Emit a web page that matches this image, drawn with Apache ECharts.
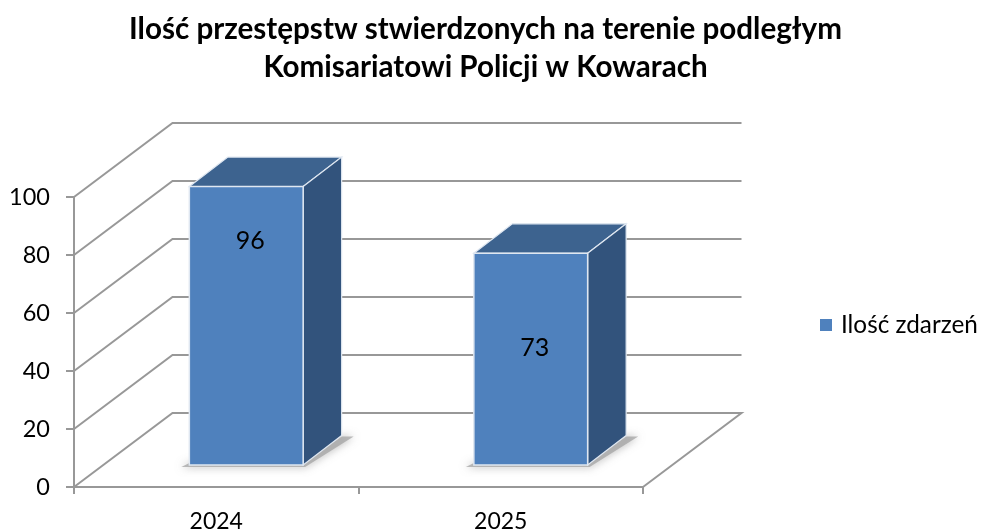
<!DOCTYPE html>
<html><head><meta charset="utf-8">
<style>html,body{margin:0;padding:0;background:#fff}#c{width:981px;height:532px}</style>
<script src="https://cdn.jsdelivr.net/npm/echarts@6/dist/echarts.min.js"></script>
</head><body><div id="c"></div>
<script>
const titleText = 'Ilość przestępstw stwierdzonych na terenie podległym\nKomisariatowi Policji w Kowarach';
const categories = ['2024', '2025'];
const seriesName = 'Ilość zdarzeń';
const values = [96, 73];
const yTicks = [0, 20, 40, 60, 80, 100];

// Layout constants (pixels / label anchors)
const WALL_DX = 98.5, WALL_DY = -74;
const BAR_DX = 30, BAR_DY = -22;
const BAR_DEPTH_X = 38.5, BAR_DEPTH_Y = -29.5;
const LABEL_ANCHOR = [85, 48];
const FONT = 'Lato, Carlito, "Open Sans", sans-serif';
const GRID_COLOR = '#989898';

const chart = echarts.init(document.getElementById('c'), null, {renderer: 'canvas'});

function renderWall(params, api) {
  const v = api.value(0);
  const cs = params.coordSys;
  const y = api.coord([0, v])[1];
  const x0 = cs.x, x1 = cs.x + cs.width;
  const pts = [[x0, y], [x0 + WALL_DX, y + WALL_DY], [x1 + WALL_DX, y + WALL_DY]];
  if (v === 0) pts.push([x1, y]);
  return {type: 'polyline', shape: {points: pts},
    style: {fill: 'none', stroke: GRID_COLOR, lineWidth: 2}};
}

function renderBar(params, api) {
  const i = api.value(0), v = api.value(1);
  const size = api.size([1, 0])[0];
  const w = size / 2.5;
  const top = api.coord([i, v]);
  const base = api.coord([i, 0]);
  const l = base[0] + BAR_DX - w / 2, r = l + w;
  const yb = base[1] + BAR_DY, yt = top[1] + BAR_DY;
  const dx = BAR_DEPTH_X, dy = BAR_DEPTH_Y;
  const edge = '#dfe7f1';
  return {type: 'group', children: [
    {type: 'polygon', silent: true, shape: {points: [
        [l - 8, yb + 2], [r + 2, yb + 2], [r + dx + 12, yb + dy + 1], [r + dx, yb + dy + 1], [r, yb - 2], [l, yb - 2]]},
      style: {fill: '#a0a0a0', shadowBlur: 8, shadowColor: 'rgba(110,110,110,0.8)', opacity: 0.7}},
    {type: 'polygon', shape: {points: [[l, yt], [l + dx, yt + dy], [r + dx, yt + dy], [r, yt]]},
      style: {fill: '#3d638f', stroke: edge, lineWidth: 1.2}},
    {type: 'polygon', shape: {points: [[r, yt], [r + dx, yt + dy], [r + dx, yb + dy], [r, yb]]},
      style: {fill: '#32537c', stroke: edge, lineWidth: 1.2}},
    {type: 'rect', shape: {x: l, y: yt, width: w, height: yb - yt},
      style: {fill: '#4f81bd', stroke: edge, lineWidth: 1.5}},
    {type: 'text', style: {text: String(v), x: (l + r) / 2 + 4, y: api.coord([i, LABEL_ANCHOR[i]])[1],
      align: 'center', verticalAlign: 'middle', fill: '#000', font: '25px ' + FONT}}
  ]};
}

chart.setOption({
  animation: false,
  backgroundColor: '#fff',
  textStyle: {fontFamily: FONT},
  title: {text: titleText, left: 480.5, top: 6, textAlign: 'center',
    textStyle: {fontFamily: FONT, fontSize: 29.6, fontWeight: 'bold', color: '#000', lineHeight: 37.5}},
  legend: {data: [seriesName], left: 815, top: 308, icon: 'rect', itemWidth: 12, itemHeight: 12, itemGap: 0,
    textStyle: {fontFamily: FONT, fontSize: 24.3, color: '#000', padding: [0, 0, 0, 4]}},
  grid: {left: 74, right: 338, top: 197, bottom: 45, outerBoundsMode: 'none'},
  xAxis: {type: 'category', data: categories,
    axisLine: {lineStyle: {color: GRID_COLOR, width: 2}},
    axisTick: {show: true, length: 7, lineStyle: {color: GRID_COLOR, width: 2}},
    axisLabel: {fontFamily: FONT, fontSize: 23, color: '#000', margin: 23}},
  yAxis: {type: 'value', min: 0, max: 100, interval: 20, splitLine: {show: false},
    axisLine: {show: true, lineStyle: {color: GRID_COLOR, width: 2}},
    axisTick: {show: true, length: 8, lineStyle: {color: GRID_COLOR, width: 2}},
    axisLabel: {fontFamily: FONT, fontSize: 23.5, color: '#000', margin: 24, padding: [1, 0, 0, 0]}},
  series: [
    {type: 'custom', z: 1, renderItem: renderWall, silent: true, data: yTicks.map(v => [v]),
      encode: {y: 0}, tooltip: {show: false}},
    {type: 'custom', z: 2, name: seriesName, renderItem: renderBar, itemStyle: {color: '#4f81bd'},
      data: values.map((v, i) => [i, v]), encode: {x: 0, y: 1}}
  ]
});
</script></body></html>
